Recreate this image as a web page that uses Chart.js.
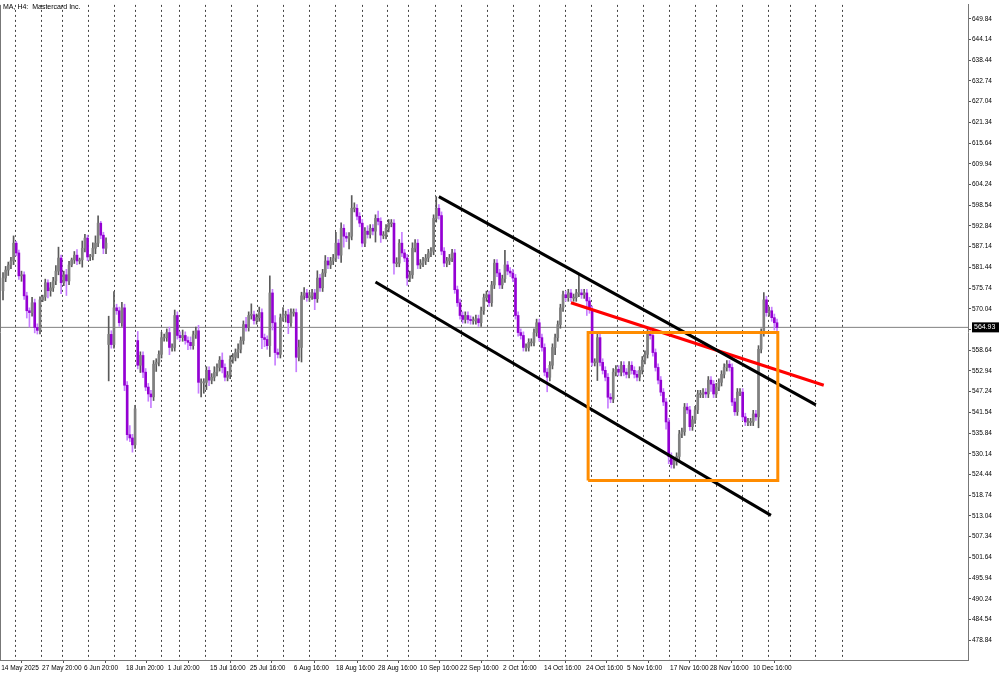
<!DOCTYPE html>
<html>
<head>
<meta charset="utf-8">
<script src="https://cdn.jsdelivr.net/npm/chart.js@4.4.1/dist/chart.umd.min.js"></script>
<style>
  html, body { margin: 0; padding: 0; background: #fff; }
  #wrap { width: 1000px; height: 675px; position: relative; }
</style>
</head>
<body>
<div id="wrap"><canvas id="chart"></canvas></div>
<script>
// MA H4 - closes, bar by bar
var closes = [
  578.5,580.7,582.1,583.2,588.1,585.4,579.1,579.4,573.6,569.5, 569.0,571.7,564.9,564.1,572.5,573.3,577.2,575.0,575.8,577.7,
  580.4,584.0,577.2,579.4,577.7,582.1,583.5,584.8,583.2,583.5, 586.7,589.5,584.3,584.5,586.7,588.1,593.6,590.3,586.7,588.1,
  563.0,560.2,570.3,569.5,566.2,570.3,549.0,535.4,534.5,532.6, 542.5,554.5,557.2,552.6,548.5,546.6,545.8,554.8,555.3,557.5,
  562.1,562.1,563.5,559.4,559.4,568.2,562.7,562.1,562.7,561.3, 560.8,559.9,562.9,564.0,549.8,
  549.8,549.8,553.1,550.4,551.2,552.6,553.9,555.9,553.9,551.2, 551.8,556.1,556.7,558.0,558.9,561.3,565.7,564.9,568.2,568.4,
  566.8,567.6,569.0,562.1,561.6,559.9,574.4,566.2,558.0,557.5, 567.6,568.4,568.4,566.2,569.0,569.0,556.7,559.4,573.6,574.4,
  573.1,573.6,574.4,572.8,578.5,575.8,579.9,583.2,582.1,583.2, 584.0,588.1,584.8,592.2,590.0,589.5,590.0,597.7,597.7,595.5,
  593.6,588.1,591.4,590.5,592.2,591.4,594.9,594.1,590.3,590.3, 592.2,593.6,
  593.6,582.6,582.6,588.1,585.4,584.0,578.5,579.4,586.7,588.1, 582.1,582.6,583.2,584.0,585.4,585.9,594.9,597.7,595.7,585.9,
  582.6,583.2,584.0,585.4,575.3,571.7,568.2,567.1,568.2,567.1, 566.8,566.8,567.3,566.2,569.5,573.1,573.9,571.7,576.6,582.6,
  579.9,576.6,578.3,582.1,580.4,579.9,578.5,568.2,563.5,562.7, 559.4,559.4,560.8,560.8,563.5,566.2,562.1,559.4,552.6,551.2,
  554.5,559.4,562.1,565.7,570.3,573.9,573.1,574.4,573.1,573.1, 574.4,574.4,573.9,574.4,572.2,
  569.8,555.3,555.3,562.1,555.3,553.1,551.2,545.7,545.2,552.6, 553.4,552.6,554.5,552.6,552.0,554.5,553.1,552.0,551.2,553.1,
  555.9,557.5,563.5,562.7,558.0,553.9,550.4,547.1,544.4,538.9, 529.4,527.2,528.0,529.4,535.6,536.2,543.0,542.2,537.6,539.5,
  542.2,546.6,546.6,547.1,546.6,550.4,549.3,546.6,548.5,549.8, 552.0,553.9,554.8,553.9,544.4,541.7,547.1,547.1,540.3,538.9,
  538.9,538.9,541.1,540.3,558.9,563.5,572.5,569.0,569.5,567.6, 566.2,564.9
];
var firstOpen = 575.0;
// bars that open away from the previous close (gaps): [bar, open]
var gapOpens = [[40, 560.2], [51, 561.3]];
var wickUp = [
  1.5,1,0.8,1,2,0.5,0.8,1,0.8,1, 0.8,1.5,1,1,0.8,0.5,1,0.8,1.5,1, 1.5,3,0.8,1,1.5,1,0.5,1,1.5,0.5, 2,1,0.8,0.5,1.5,2,2,0.5,0.8,1.5,
  5,1,4.5,1,1,1.5,1,1,2.5,1, 1,2.5,1,1,1,1,1,1,1,1, 1.5,1,1,1.5,1,1.5,1,1,1.5,1, 1,1.5,1,1,1.5,
  1,1,1,1,1,1.5,1,1,2,1, 1,1,1,1,1.5,1,1,2,1,3, 1,1,1.5,1,1,1,4.7,1,2,1, 1,2,1,1.5,1,1,1,2,1,1.5,
  1,1,1,1,2,1,1,1.5,1,1, 1,3,1,1.5,1,1,1,3.5,1.5,1, 1,1,1,1.5,1,1,1,2,1,1, 1,1,
  1,1,1.5,1,3,1,1,1,1.5,1, 1,1,1,1,1,1,1,3.2,1,1, 1,1,1,1,1,1,1,1,1,1, 1,1,1,1,1,1,1,1,1,1,
  1,1,1,4,1,1,1,1,1,1, 1,1,1,1,1,1,1,1,1,1, 1,1,1,1,1,1,1,1,1,1, 1,5,1,1,1,
  1,1,1,1,1,1,1,1,1,1, 1,1,1,1,1,1,1,1,1,1, 1,1,1,1,1,1,1,1,1,1, 1,1,1,1,1,1,1,1,1,1,
  1,1,1,1,1,1,1,1,1,1, 1,1,1,1,1,1,1,1,1,1, 1,1,1,1,1,1,2,1,1,1, 1,1
];
var wickDown = [
  2.5,1,1.5,1,1,0.8,1,1.5,1,2, 4,1,1.5,1,1,0.5,1,2,1.5,1, 1,1,3,0.8,4,1,0.5,1,1,0.8, 2,1,1,1,1,1.5,1,1,1.5,1.5,
  10,1,1,1,1,1,1.5,1.5,1,2, 1,1,2,1.5,1,2,3,1,2,1, 1,1,1,2,1,1,1,1,1,1, 2,1,1,1,3,
  4,3,2,1.5,1,1,1,1,1.5,1, 1,1,1,1,1.5,1,1,1,1,1, 1,1,1,3,2,1,3,2,3.5,1, 1,1,2,3,1,1,4,1,4,1,
  1,1,1,3,1,1,1,1,1,1, 1,1,1,2,3,1,3,1,1,1, 1,1,1,1,1,1,3,1,2,1, 1,1,
  1,3,1,1,1,1,2,1,1,1, 1,1,1,1,1,1,1,1,1,1, 1,1,1,1,1,1,1,1,1,1, 1,1,1,1,1,1,1,1,1,1,
  1,1,1,1,1,1,1,1,1,1, 1,1,1,1,1,1,1,1,1,4, 1,1,2,1,1,1,1,1,1,1, 1,1,1,1,4,
  1,1,1,5,1,1,1,3,1,1, 1,1,1,1,1,1,1,1,1,1, 1,1,1,1,1,1,1,1,1,2, 2,1,1,1,1,1,1,1,1,1,
  1,1,1,1,1,1,2,1,1,1, 1,1,1,1,1,1,1,1,1,1, 1,1,1,1,3,1,1,1,1,1, 2,1
];
var lastPrice = 564.93;
var priceTicks = [478.84,484.54,490.24,495.94,501.64,507.34,513.04,518.74,524.44,530.14,535.84,541.54,547.24,552.94,558.64,
  564.34,570.04,575.74,581.44,587.14,592.84,598.54,604.24,609.94,615.64,621.34,627.04,632.74,638.44,644.14,649.84];
var dateLabels = ['14 May 2025','27 May 20:00','6 Jun 20:00','18 Jun 20:00','1 Jul 20:00','15 Jul 16:00','25 Jul 16:00',
  '6 Aug 16:00','18 Aug 16:00','28 Aug 16:00','10 Sep 16:00','22 Sep 16:00','2 Oct 16:00','14 Oct 16:00','24 Oct 16:00',
  '5 Nov 16:00','17 Nov 16:00','28 Nov 16:00','10 Dec 16:00'];
var dateLabelBars = [-0.7,14.8,30.7,46.6,62.4,78.4,93.5,110.1,126.1,142,157.8,173,189.3,204.8,220.7,236.2,252.5,267.6,283.9];
var gridBars = [4.5,14.4,22.3,32.2,42,50,59.8,66.6,76.5,86.3,96.1,106,115.8,125.7,135.9,145.4,153.3,163.5,173.4,183.2,
  193,202.9,212.7,222.6,232.4,242.3,252.1,261.9,269.9,279.7,289.6,297.9,307.4,317.6];
// drawn objects: [bar, price] end points
var channelTop = [[165, 600.9], [307.7, 543.6]];
var channelBottom = [[141, 577.4], [290.7, 513.2]];
var redLine = [[215, 571.7], [310.7, 549.0]];
var boxBars = [221.5, 293.3];
var boxPrices = [522.8, 563.5];

var upBody = [], downBody = [], upWick = [], downWick = [];
for (var i = 0; i < closes.length; i++) {
  var open = i === 0 ? firstOpen : closes[i - 1];
  gapOpens.forEach(function (g) { if (g[0] === i) open = g[1]; });
  var c = closes[i];
  var hi = Math.max(open, c) + wickUp[i];
  var lo = Math.min(open, c) - wickDown[i];
  var body = Math.abs(c - open) < 0.25 ? [c - 0.15, c + 0.15] : [Math.min(open, c), Math.max(open, c)];
  if (c >= open) { upBody.push({x: i, y: body}); upWick.push({x: i, y: [lo, hi]}); }
  else { downBody.push({x: i, y: body}); downWick.push({x: i, y: [lo, hi]}); }
}

function pts(arr) { return arr.map(function (p) { return {x: p[0], y: p[1]}; }); }
var box = [[boxBars[0], boxPrices[0]], [boxBars[0], boxPrices[1]], [boxBars[1], boxPrices[1]],
  [boxBars[1], boxPrices[0]], [boxBars[0], boxPrices[0]]];

var X_MIN = -1.14, X_MAX = 365.3;
var FONT = 'Liberation Sans';

var decor = {
  id: 'decor',
  beforeDatasetsDraw: function (chart) {
    var ctx = chart.ctx, a = chart.chartArea, xs = chart.scales.x;
    ctx.save();
    ctx.strokeStyle = '#444';
    ctx.lineWidth = 1;
    ctx.setLineDash([2, 3]);
    gridBars.forEach(function (b) {
      var px = Math.round(xs.getPixelForValue(b)) + 0.5;
      ctx.beginPath(); ctx.moveTo(px, a.top); ctx.lineTo(px, a.bottom); ctx.stroke();
    });
    ctx.restore();
  },
  afterDraw: function (chart) {
    var ctx = chart.ctx, a = chart.chartArea, ys = chart.scales.y;
    ctx.save();
    ctx.strokeStyle = '#777';
    ctx.beginPath(); ctx.moveTo(a.left + 0.5, a.top); ctx.lineTo(a.left + 0.5, a.bottom); ctx.stroke();
    ctx.fillStyle = '#000';
    ctx.font = '7px "' + FONT + '"';
    ctx.textBaseline = 'top';
    ctx.fillText('MA, H4:  Mastercard Inc.', a.left + 3, 4);
    var py = ys.getPixelForValue(lastPrice);
    ctx.fillStyle = '#000';
    ctx.fillRect(a.right + 4, py - 5, 27, 10);
    ctx.fillStyle = '#fff';
    ctx.textBaseline = 'middle';
    ctx.fillText(lastPrice.toFixed(2), a.right + 6, py);
    ctx.restore();
  }
};

var lineOpts = {type: 'line', pointRadius: 0, fill: false, order: 0};
new Chart(document.getElementById('chart'), {
  type: 'bar',
  data: {
    datasets: [
      Object.assign({}, lineOpts, {data: [{x: X_MIN, y: lastPrice}, {x: X_MAX, y: lastPrice}], borderColor: '#808080', borderWidth: 1, order: 5}),
      {data: upWick, backgroundColor: '#5a5a5a', barThickness: 1, grouped: false, order: 4},
      {data: downWick, backgroundColor: '#c77dff', barThickness: 1, grouped: false, order: 4},
      {data: upBody, backgroundColor: '#808080', barThickness: 2, grouped: false, order: 3},
      {data: downBody, backgroundColor: '#9400d3', barThickness: 2, grouped: false, order: 3},
      Object.assign({}, lineOpts, {data: pts(box), borderColor: '#ff8c00', borderWidth: 3}),
      Object.assign({}, lineOpts, {data: pts(channelTop), borderColor: '#000', borderWidth: 3}),
      Object.assign({}, lineOpts, {data: pts(channelBottom), borderColor: '#000', borderWidth: 3}),
      Object.assign({}, lineOpts, {data: pts(redLine), borderColor: '#ff0000', borderWidth: 3})
    ]
  },
  options: {
    responsive: true,
    maintainAspectRatio: false,
    animation: false,
    layout: {padding: 0},
    plugins: {legend: {display: false}, tooltip: {enabled: false}},
    scales: {
      x: {
        type: 'linear', min: X_MIN, max: X_MAX, offset: false,
        grid: {display: true, drawOnChartArea: false, tickLength: 3, color: '#555'},
        border: {color: '#777'},
        afterBuildTicks: function (s) { s.ticks = dateLabelBars.map(function (v) { return {value: v}; }); },
        afterFit: function (s) { s.height = 15; },
        ticks: {
          autoSkip: false, maxRotation: 0, align: 'start', padding: 1, color: '#000',
          font: {family: FONT, size: 6.5},
          callback: function (v, i) { return dateLabels[i]; }
        }
      },
      y: {
        position: 'right', min: 473.4, max: 653.66,
        grid: {display: true, drawOnChartArea: false, tickLength: 3, color: '#555'},
        border: {color: '#777'},
        afterBuildTicks: function (s) { s.ticks = priceTicks.map(function (v) { return {value: v}; }); },
        afterFit: function (s) { s.width = 32; },
        ticks: {
          padding: 1, color: '#000', font: {family: FONT, size: 6.5},
          callback: function (v) { return v.toFixed(2); }
        }
      }
    }
  },
  plugins: [decor]
});
</script>
</body>
</html>
